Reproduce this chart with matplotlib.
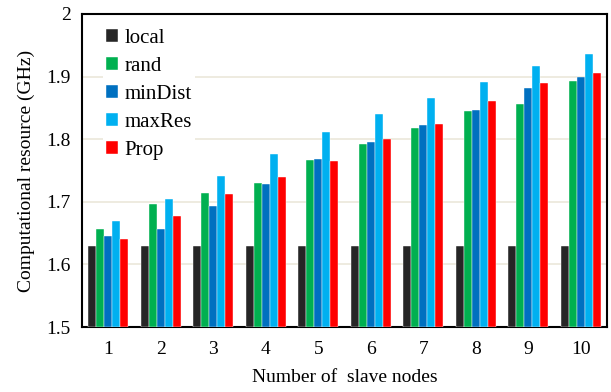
import numpy as np
import matplotlib
matplotlib.use("Agg")
import matplotlib.pyplot as plt

plt.rcParams["font.family"] = ["Liberation Serif", "DejaVu Serif"]

# numero de nos escravos
nodes = [1, 2, 3, 4, 5, 6, 7, 8, 9, 10]

# recurso computacional (GHz) por estrategia
local = [1.63, 1.63, 1.63, 1.63, 1.63, 1.63, 1.63, 1.63, 1.63, 1.63]
rand = [1.656, 1.696, 1.714, 1.730, 1.766, 1.792, 1.818, 1.845, 1.856, 1.893]
minDist = [1.646, 1.657, 1.694, 1.729, 1.769, 1.795, 1.822, 1.846, 1.881, 1.900]
maxRes = [1.669, 1.705, 1.741, 1.777, 1.812, 1.840, 1.866, 1.892, 1.917, 1.936]
prop = [1.641, 1.678, 1.713, 1.739, 1.765, 1.800, 1.825, 1.861, 1.889, 1.905]

series_names = ["local", "rand", "minDist", "maxRes", "Prop"]
series = [local, rand, minDist, maxRes, prop]
cores = ["#262626", "#00b050", "#0070c0", "#00b0f0", "#ff0000"]

fig = plt.figure(figsize=(6.11, 3.92), dpi=100)
ax = fig.add_axes([82 / 611, 1 - 327 / 392, 525 / 611, 313 / 392])

x = np.arange(len(nodes))
largura = 0.152
for i, (nome, valores) in enumerate(zip(series_names, series)):
    desloc = (i - 2) * largura
    ax.bar(x + desloc, np.array(valores) - 1.5, largura, bottom=1.5,
           color=cores[i], label=nome, edgecolor="white", linewidth=0.3, zorder=3)

ax.set_xlim(-0.5, len(nodes) - 0.5)
ax.set_ylim(1.5, 2.0)
ax.set_yticks([1.5, 1.6, 1.7, 1.8, 1.9, 2.0])
ax.set_yticklabels(["1.5", "1.6", "1.7", "1.8", "1.9", "2"])
ax.set_xticks(x)
ax.set_xticklabels([str(n) for n in nodes])
ax.tick_params(length=0, labelsize=14, pad=10)
ax.tick_params(axis="y", pad=8)

ax.yaxis.grid(True, color="#ebe7da", linewidth=1.2, zorder=0)
ax.set_axisbelow(True)
for sp in ax.spines.values():
    sp.set_linewidth(1.5)
    sp.set_color("black")

ax.set_xlabel("Number of  slave nodes", fontsize=14, labelpad=8)
ax.set_ylabel("Computational resource (GHz)", fontsize=14, labelpad=8)

leg = ax.legend(loc="upper left", bbox_to_anchor=(0.02, 0.995), fontsize=15,
                frameon=True, framealpha=1, edgecolor="white", fancybox=False,
                handlelength=0.55, handleheight=0.55, handletextpad=0.35,
                labelspacing=0.43, borderpad=0.15)
leg.get_frame().set_linewidth(0)

fig.savefig("out.png", dpi=100)
